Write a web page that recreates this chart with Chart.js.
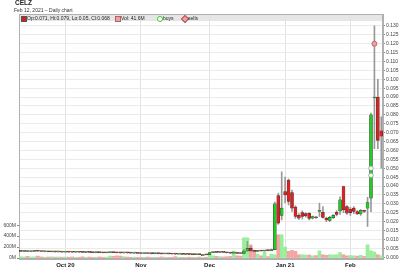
<!DOCTYPE html>
<html><head><meta charset="utf-8">
<script src="https://cdn.jsdelivr.net/npm/chart.js@4.4.1/dist/chart.umd.min.js"></script>
<style>
html,body{margin:0;padding:0;background:#fff;}
#wrap{position:relative;width:400px;height:274px;font-family:"Liberation Sans",Arial,sans-serif;overflow:hidden;}
#c{position:absolute;left:0;top:0;}
.t{position:absolute;white-space:nowrap;color:#222;line-height:1;}
.sq{position:absolute;width:4px;height:4px;}
</style></head><body>
<div id="wrap">
<canvas id="c" width="400" height="274"></canvas>
<div class="t" style="left:15px;top:0px;font-size:6.5px;font-weight:bold;">CELZ</div>
<div class="t" style="left:14px;top:7.5px;font-size:5px;color:#333;">Feb 12, 2021 – Daily chart</div>
<div class="sq" style="left:21px;top:15.5px;background:#d42020;border:0.5px solid #555;"></div>
<div class="t" style="left:27px;top:15.5px;font-size:5px;">Op:0.071, Hi:0.079, Lo:0.05, Cl:0.068</div>
<div class="sq" style="left:115px;top:15.5px;background:#f2a0a0;border:0.5px solid #a66;"></div>
<div class="t" style="left:121px;top:15.5px;font-size:5px;">Vol: 41.6M</div>
<div class="sq" style="left:157px;top:15.5px;background:#fff;border:0.8px solid #3c3;border-radius:50%;"></div>
<div class="t" style="left:163px;top:15.5px;font-size:5px;">buys</div>
<div class="sq" style="left:182px;top:15.5px;background:#f2a0a0;border:0.6px solid #a55;transform:rotate(45deg);"></div>
<div class="t" style="left:188px;top:15.5px;font-size:5px;">sells</div>
</div>
<script>
const dates = [
'2020-09-14','2020-09-15','2020-09-16','2020-09-17','2020-09-18','2020-09-21','2020-09-22','2020-09-23','2020-09-24','2020-09-25','2020-09-28','2020-09-29','2020-09-30',
'2020-10-01','2020-10-02','2020-10-05','2020-10-06','2020-10-07','2020-10-08','2020-10-09','2020-10-12','2020-10-13','2020-10-14','2020-10-15','2020-10-16','2020-10-19','2020-10-20','2020-10-21','2020-10-22','2020-10-23','2020-10-26','2020-10-27','2020-10-28','2020-10-29','2020-10-30',
'2020-11-02','2020-11-03','2020-11-04','2020-11-05','2020-11-06','2020-11-09','2020-11-10','2020-11-11','2020-11-12','2020-11-13','2020-11-16','2020-11-17','2020-11-18','2020-11-19','2020-11-20','2020-11-23','2020-11-24','2020-11-25','2020-11-27','2020-11-30',
'2020-12-01','2020-12-02','2020-12-03','2020-12-04','2020-12-07','2020-12-08','2020-12-09','2020-12-10','2020-12-11','2020-12-14','2020-12-15','2020-12-16','2020-12-17','2020-12-18','2020-12-21','2020-12-22','2020-12-23','2020-12-24','2020-12-28','2020-12-29','2020-12-30','2020-12-31',
'2021-01-04','2021-01-05','2021-01-06','2021-01-07','2021-01-08','2021-01-11','2021-01-12','2021-01-13','2021-01-14','2021-01-15','2021-01-19','2021-01-20','2021-01-21','2021-01-22','2021-01-25','2021-01-26','2021-01-27','2021-01-28','2021-01-29',
'2021-02-01','2021-02-02','2021-02-03','2021-02-04','2021-02-05','2021-02-08','2021-02-09','2021-02-10','2021-02-11','2021-02-12'];

const opens = [
.0034,.0033,.0034,.0032,.0033,.0035,.0034,.0032,.0033,.0031,.0032,.0030,.0031,
.0029,.0030,.0029,.0028,.0029,.0028,.0027,.0028,.0027,.0026,.0027,.0026,.0025,.0026,.0028,.0026,.0025,.0024,.0025,.0024,.0023,.0024,
.0022,.0021,.0022,.0021,.0020,.0021,.0020,.0019,.0020,.0019,.0018,.0017,.0018,.0016,.0017,.0016,.0015,.0016,.0015,.0015,
.0015,.0026,.0028,.0027,.0028,.0027,.0025,.0023,.0026,.0022,.0022,.0035,.0050,.0036,.0033,.0036,.0035,.0038,.0037,.0043,.0346,.0235,
.0369,.0434,.0363,.0282,.0235,.0251,.0245,.0246,.0220,.0224,.0258,.0253,.0220,.0207,.0222,.0253,.0260,.0397,.0285,
.0270,.0276,.0257,.0244,.0262,.0276,.0332,.0895,.0900,.0710];
const highs = [
.0036,.0035,.0035,.0034,.0036,.0037,.0035,.0034,.0034,.0033,.0033,.0032,.0032,
.0031,.0031,.0030,.0030,.0030,.0029,.0029,.0029,.0028,.0028,.0028,.0027,.0027,.0029,.0029,.0027,.0026,.0026,.0026,.0025,.0025,.0025,
.0023,.0023,.0023,.0022,.0022,.0022,.0021,.0021,.0021,.0020,.0019,.0019,.0019,.0018,.0018,.0017,.0017,.0017,.0016,.0016,
.0028,.0030,.0030,.0029,.0029,.0028,.0026,.0030,.0027,.0023,.0045,.0089,.0060,.0040,.0038,.0039,.0040,.0040,.0045,.0310,.0360,.0480,
.0450,.0440,.0377,.0290,.0245,.0260,.0250,.0250,.0232,.0228,.0304,.0285,.0225,.0230,.0240,.0262,.0340,.0400,.0290,
.0280,.0285,.0262,.0268,.0265,.0337,.0810,.1300,.1000,.0790];
const lows = [
.0032,.0031,.0032,.0031,.0032,.0033,.0031,.0030,.0030,.0029,.0029,.0028,.0028,
.0028,.0028,.0027,.0027,.0027,.0026,.0026,.0026,.0025,.0025,.0025,.0024,.0024,.0025,.0025,.0024,.0023,.0023,.0023,.0022,.0022,.0022,
.0020,.0020,.0020,.0019,.0019,.0019,.0018,.0018,.0018,.0017,.0016,.0016,.0016,.0015,.0015,.0014,.0014,.0014,.0014,.0013,
.0014,.0025,.0026,.0025,.0026,.0024,.0022,.0022,.0021,.0020,.0021,.0033,.0034,.0031,.0032,.0034,.0034,.0035,.0036,.0042,.0185,.0210,
.0305,.0294,.0257,.0218,.0212,.0215,.0225,.0210,.0215,.0218,.0229,.0220,.0200,.0200,.0218,.0232,.0240,.0250,.0240,
.0235,.0245,.0240,.0235,.0250,.0173,.0256,.0610,.0610,.0500];
const closes = [
.0033,.0034,.0032,.0033,.0035,.0034,.0032,.0033,.0031,.0032,.0030,.0031,.0029,
.0030,.0029,.0028,.0029,.0028,.0027,.0028,.0027,.0026,.0027,.0026,.0025,.0026,.0028,.0026,.0025,.0024,.0025,.0024,.0023,.0024,.0022,
.0021,.0022,.0021,.0020,.0021,.0020,.0019,.0020,.0019,.0018,.0017,.0018,.0016,.0017,.0016,.0015,.0016,.0015,.0015,.0014,
.0026,.0028,.0027,.0028,.0027,.0025,.0023,.0026,.0022,.0021,.0035,.0050,.0036,.0033,.0036,.0035,.0038,.0037,.0043,.0300,.0192,.0276,
.0350,.0313,.0276,.0229,.0220,.0229,.0232,.0218,.0229,.0222,.0260,.0224,.0210,.0224,.0236,.0240,.0322,.0266,.0248,
.0251,.0257,.0244,.0263,.0258,.0307,.0800,.0900,.0656,.0680];
const volumes = [
25,20,30,18,22,35,20,15,18,22,16,20,15,
18,15,20,12,15,22,14,18,12,15,20,14,16,35,30,40,35,25,18,14,16,12,
15,12,18,10,14,12,20,15,10,12,25,14,10,12,15,10,12,18,10,14,
60,40,30,25,20,25,30,127,40,35,370,370,240,130,70,40,110,25,70,60,425,425,
200,122,140,122,60,60,55,55,40,45,130,60,50,60,55,60,100,60,40,
45,40,35,50,30,242,133,110,60,41.6];

const monthTicks = {'2020-10-01':'Oct 20','2020-11-02':'Nov','2020-12-01':'Dec','2021-01-04':'Jan 21','2021-02-01':'Feb'};
const priceTicks = [0,0.005,0.010,0.015,0.020,0.025,0.030,0.035,0.040,0.045,0.050,0.055,0.060,0.065,0.070,0.075,0.080,0.085,0.090,0.095,0.100,0.105,0.110,0.115,0.120,0.125,0.130];
const volTicks = [0,200,400,600];
const buys = [{x:'2021-02-09',y:0.050},{x:'2021-02-09',y:0.046}];
const sells = [{x:'2021-02-10',y:0.120}];

const UP='#22cc22', DN='#dd2020', VUP='#99ee99', VDN='#f4a3a3';
const bodyColors = opens.map((o,i)=> closes[i]>=o ? UP : DN);
const volColors = closes.map((c,i)=> (i===0 || c>=closes[i-1]) ? VUP : VDN);

const bandPlugin = {
  id:'band',
  beforeDraw(chart){
    const {ctx, chartArea:a} = chart;
    ctx.save();
    ctx.fillStyle='#e6e6e6';
    ctx.fillRect(a.left, a.top, a.right-a.left, 7);
    ctx.restore();
  },
  beforeDatasetsDraw(chart){
    const {ctx, chartArea:a} = chart;
    ctx.save();
    ctx.strokeStyle='#b0b0b0'; ctx.lineWidth=1;
    ctx.strokeRect(Math.round(a.left)+0.5, Math.round(a.top)+0.5, Math.round(a.right-a.left)-1, Math.round(a.bottom-a.top)-1);
    ctx.restore();
  }
};

const F = "'Liberation Sans', Arial, sans-serif";
new Chart(document.getElementById('c'), {
  type:'bar',
  data:{
    labels: dates,
    datasets:[
      {type:'line', label:'sells', data:sells, showLine:false, order:0, yAxisID:'y',
       pointStyle:'circle', pointRadius:2.5, pointBackgroundColor:'#f2a0a0', pointBorderColor:'#a55', pointBorderWidth:0.8},
      {type:'line', label:'buys', data:buys, showLine:false, order:0, yAxisID:'y',
       pointStyle:'circle', pointRadius:2.3, pointBackgroundColor:'#ffffff', pointBorderColor:'#7a7', pointBorderWidth:0.8},
      {label:'body', data: opens.map((o,i)=>[o,closes[i]]), yAxisID:'y', order:1, grouped:false,
       backgroundColor: bodyColors, borderColor:'rgba(30,30,30,0.85)', borderWidth:0.5, borderSkipped:false,
       barThickness:3, minBarLength:1},
      {label:'wick', data: lows.map((l,i)=>[l,highs[i]]), yAxisID:'y', order:2, grouped:false,
       backgroundColor:'#999999', borderWidth:0, barThickness:1},
      {label:'vol', data: volumes, yAxisID:'yv', order:3, grouped:false,
       backgroundColor: volColors, borderWidth:0, barThickness:3}
    ]
  },
  options:{
    responsive:false, animation:false, devicePixelRatio:1,
    layout:{padding:{top:14,left:0,right:0,bottom:0}},
    plugins:{legend:{display:false}, tooltip:{enabled:false}, title:{display:false}},
    scales:{
      x:{
        type:'category', offset:true,
        grid:{display:true, offset:false, color:'#e2e2e2', drawTicks:false},
        border:{display:true, color:'#b0b0b0'},
        ticks:{autoSkip:false, maxRotation:0, padding:3, color:'#222',
               font:{family:F, size:6, weight:'bold'},
               callback:(v)=> monthTicks[dates[v]] || ''},
        afterBuildTicks:(s)=>{ s.ticks = s.ticks.filter(t=> monthTicks[dates[t.value]]); },
        afterFit:(s)=>{ s.height = 15; }
      },
      y:{
        position:'right', min:-0.001, max:0.1367,
        grid:{color:'#ebebeb', tickColor:'#888', tickLength:2},
        border:{display:true, color:'#b0b0b0'},
        ticks:{padding:1, color:'#444', font:{family:F, size:5}, callback:(v)=> v.toFixed(3)},
        afterBuildTicks:(s)=>{ s.ticks = priceTicks.map(v=>({value:v})); },
        afterFit:(s)=>{ s.width = 17; }
      },
      yv:{
        position:'left', min:-18, max:4455,
        grid:{drawOnChartArea:false, tickColor:'#888', tickLength:2},
        border:{display:true, color:'#b0b0b0'},
        ticks:{padding:1, color:'#444', font:{family:F, size:5}, callback:(v)=> v+'M'},
        afterBuildTicks:(s)=>{ s.ticks = volTicks.map(v=>({value:v})); },
        afterFit:(s)=>{ s.width = 19; }
      }
    }
  },
  plugins:[bandPlugin]
});
</script>
</body></html>
